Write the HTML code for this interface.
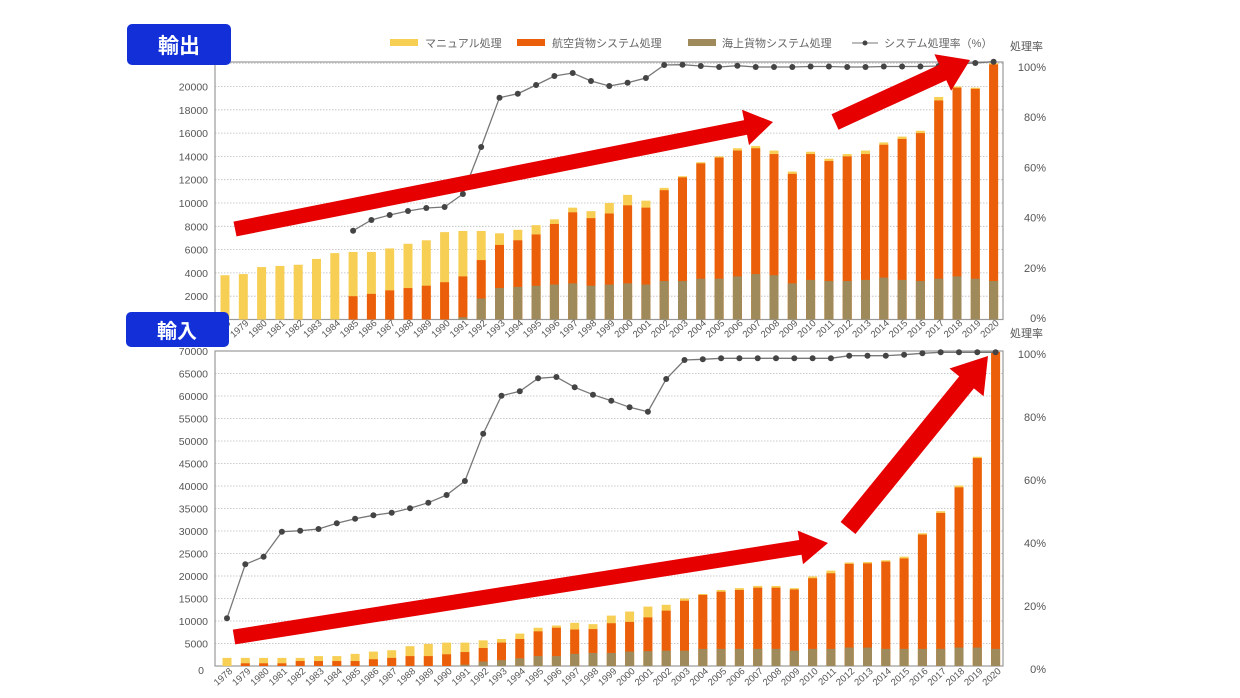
<!DOCTYPE html>
<html><head><meta charset="utf-8"><style>
html,body{margin:0;padding:0;background:#fff;}
svg{display:block;font-family:"Liberation Sans","Noto Sans CJK JP",sans-serif;}
</style></head><body>
<svg id="s" width="1240" height="698" xmlns="http://www.w3.org/2000/svg"></svg>
<script>
const S=document.getElementById('s');let h='';
const MAN='#f7cf55',AIR='#ec5f0a',SEA='#9e8a5a';
// top: [total, airTop, seaTop] in thousands
const T=[[3.8,0,0],[3.9,0,0],[4.5,0,0],[4.6,0,0],[4.7,0,0],[5.2,0,0],[5.7,0,0],[5.8,2.0,0],[5.8,2.2,0],[6.1,2.5,0],[6.5,2.7,0],[6.8,2.9,0],[7.5,3.2,0],[7.6,3.7,0.2],[7.6,5.1,1.8],[7.4,6.4,2.7],[7.7,6.8,2.8],[8.1,7.3,2.9],[8.6,8.2,3.0],[9.6,9.2,3.1],[9.3,8.7,2.9],[10.0,9.1,3.0],[10.7,9.8,3.1],[10.2,9.6,3.0],[11.3,11.1,3.3],[12.3,12.2,3.3],[13.5,13.4,3.5],[14.0,13.9,3.5],[14.7,14.5,3.7],[14.9,14.7,3.9],[14.5,14.2,3.8],[12.7,12.5,3.1],[14.4,14.2,3.4],[13.8,13.6,3.3],[14.2,14.0,3.3],[14.5,14.2,3.4],[15.2,15.0,3.6],[15.7,15.5,3.4],[16.2,16.0,3.3],[19.1,18.8,3.5],[20.0,19.9,3.7],[19.9,19.8,3.5],[22.0,21.9,3.3]];
const TL=[null,null,null,null,null,null,null,230.7,220,215,211,208,207,194,147,97.7,93.7,85,76,73,81,86,82.7,78,65,64.7,66,67,65.7,67,67,67,66.5,66.5,67,67,66.5,66.5,66.5,66,64,63,61.7];
const B=[[1.8,0,0],[1.8,0.6,0],[1.8,0.6,0],[1.8,0.6,0],[1.8,1.1,0],[2.2,1.1,0],[2.2,1.1,0],[2.7,1.1,0],[3.2,1.5,0],[3.5,1.8,0],[4.4,2.2,0],[4.9,2.2,0],[5.2,2.6,0],[5.2,3.1,0.3],[5.7,4.0,1.0],[6.0,5.2,1.3],[7.2,6.0,1.7],[8.5,7.7,2.2],[9.0,8.5,2.2],[9.6,8.1,2.7],[9.3,8.2,2.9],[11.2,9.5,2.9],[12.1,9.8,3.2],[13.2,10.8,3.3],[13.6,12.3,3.4],[15.0,14.5,3.4],[16.0,15.8,3.8],[16.9,16.5,3.8],[17.3,16.9,3.8],[17.8,17.4,3.8],[17.8,17.4,3.8],[17.3,17.0,3.4],[19.9,19.5,3.8],[21.2,20.6,3.8],[23.0,22.7,4.1],[23.1,22.8,4.1],[23.5,23.2,3.8],[24.3,23.9,3.8],[29.5,29.2,3.8],[34.4,34.0,3.8],[40.1,39.7,4.1],[46.5,46.2,4.1],[69.8,69.8,3.8]];
const BL=[618.3,564.3,556.7,531.7,530.7,529,523.3,518.7,515.3,512.7,508.3,502.7,495,481,433.7,395.7,391.3,378.3,377,387.3,394.7,400.7,407.3,411.7,379,360,359.3,358.3,358.3,358.3,358.3,358.3,358.3,358.3,355.7,355.7,355.7,354.7,353.3,352.3,352.3,352.3,352.3];
function chart(o){
 const {data,line,top,bot,scale,x0,gstep,gmax,labelStep,labelMax,pctTop,pctBot,lblY}=o;
 const L=215,R=1003;
 // grid
 for(let v=gstep;v<=gmax;v+=gstep){const y=bot-v*scale;h+=`<line x1="${L}" x2="${R}" y1="${y}" y2="${y}" stroke="#bbb" stroke-width="0.8" stroke-dasharray="1.5,1.5"/>`;}
 for(let v=labelStep;v<=labelMax;v+=labelStep){const y=bot-v*scale;h+=`<text x="${L-7}" y="${y+4}" font-size="10.5" fill="#555" text-anchor="end">${Math.round(v*1000)}</text>`;}
 h+=`<rect x="${L}" y="${top}" width="${R-L}" height="${bot-top}" fill="none" stroke="#999" stroke-width="1.2"/>`;
 data.forEach((d,i)=>{const x=x0+i*18.3-4.5;const [t,a,s]=d;
  h+=`<rect x="${x}" y="${bot-t*scale}" width="9" height="${t*scale}" fill="${MAN}"/>`;
  if(a>0)h+=`<rect x="${x}" y="${bot-a*scale}" width="9" height="${a*scale}" fill="${AIR}"/>`;
  if(s>0)h+=`<rect x="${x}" y="${bot-s*scale}" width="9" height="${s*scale}" fill="${SEA}"/>`;
  const cx=x0+i*18.3+6;
  h+=`<text transform="translate(${cx},${lblY}) rotate(-42)" font-size="9.5" fill="#555" text-anchor="end">${1978+i}</text>`;
 });
 let pts=[];line.forEach((y,i)=>{if(y!==null)pts.push([x0+i*18.3,y]);});
 h+=`<polyline points="${pts.map(p=>p.join(',')).join(' ')}" fill="none" stroke="#777" stroke-width="1.3"/>`;
 pts.forEach(p=>h+=`<circle cx="${p[0]}" cy="${p[1]}" r="3" fill="#444"/>`);
 for(let k=0;k<=5;k++){const y=pctBot-(pctBot-pctTop)*k/5;h+=`<text x="1046" y="${y+4}" font-size="11" fill="#555" text-anchor="end">${k*20}%</text>`;}
}
chart({data:T,line:TL,top:62,bot:319.5,scale:11.65,x0:225,gstep:2,gmax:22,labelStep:2,labelMax:20,pctTop:67,pctBot:318,lblY:324});
chart({data:B,line:BL,top:351,bot:666,scale:4.5,x0:227,gstep:5,gmax:70,labelStep:5,labelMax:70,pctTop:354,pctBot:669,lblY:672});
h+=`<text x="204" y="674" font-size="10.5" fill="#555" text-anchor="end">0</text>`;
h+=`<text x="180" y="65" font-size="10.5" fill="#555">22000</text>`;
h+=`<rect x="170" y="55" width="44" height="7" fill="#fff"/>`;
// legend
h+=`<rect x="390" y="39" width="28" height="7" fill="${MAN}"/><text x="425" y="47" font-size="11" fill="#666">マニュアル処理</text>`;
h+=`<rect x="517" y="39" width="28" height="7" fill="${AIR}"/><text x="552" y="47" font-size="11" fill="#666">航空貨物システム処理</text>`;
h+=`<rect x="688" y="39" width="28" height="7" fill="${SEA}"/><text x="722" y="47" font-size="11" fill="#666">海上貨物システム処理</text>`;
h+=`<line x1="852" x2="878" y1="43" y2="43" stroke="#777"/><circle cx="865" cy="43" r="2.5" fill="#444"/><text x="884" y="47" font-size="11" fill="#666">システム処理率（%）</text>`;
h+=`<text x="1010" y="50" font-size="11" fill="#555">処理率</text><text x="1010" y="337" font-size="11" fill="#555">処理率</text>`;
// arrows
function arrow(x1,y1,x2,y2,bw,hw,hl){const dx=x2-x1,dy=y2-y1,len=Math.hypot(dx,dy),ux=dx/len,uy=dy/len,nx=-uy,ny=ux;
 const bx=x2-ux*hl,by=y2-uy*hl;const P=[[x1+nx*bw/2,y1+ny*bw/2],[bx+nx*bw/2,by+ny*bw/2],[bx+nx*hw/2,by+ny*hw/2],[x2,y2],[bx-nx*hw/2,by-ny*hw/2],[bx-nx*bw/2,by-ny*bw/2],[x1-nx*bw/2,y1-ny*bw/2]];
 h+=`<polygon points="${P.map(p=>p.map(v=>v.toFixed(1)).join(',')).join(' ')}" fill="#e60000"/>`;}
arrow(235,229,773,122,15,36,28);
arrow(835,122,970,60,17,40,30);
arrow(234,637,828,543,15,34,28);
arrow(848,528,988,356,19,44,34);
// badges
h+=`<rect x="127" y="24" width="104" height="41" rx="5" fill="#1330d8"/><text x="179" y="53" font-size="21" font-weight="bold" fill="#fff" text-anchor="middle">輸出</text>`;
h+=`<rect x="126" y="312" width="103" height="35" rx="5" fill="#1330d8"/><text x="177" y="338" font-size="20" font-weight="bold" fill="#fff" text-anchor="middle">輸入</text>`;
S.innerHTML=h;
</script>
</body></html>
